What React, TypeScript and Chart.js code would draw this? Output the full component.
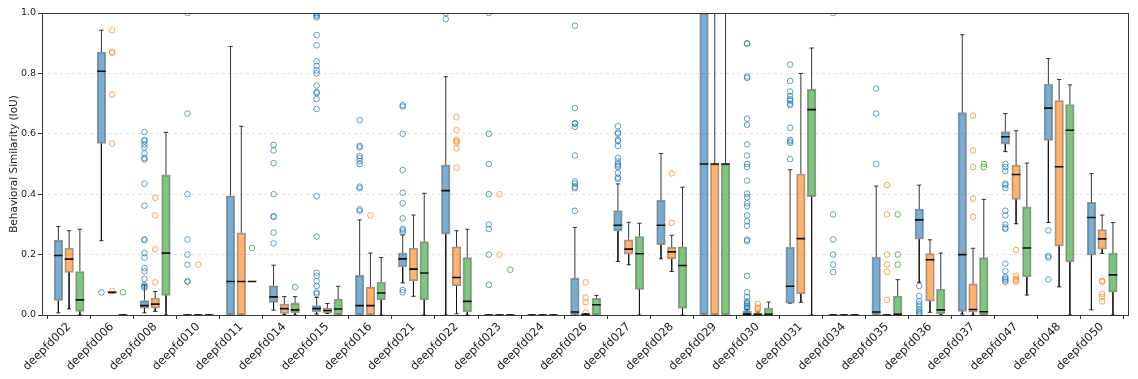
import React, { useEffect, useRef } from "react";
import { Chart, registerables } from "chart.js";

Chart.register(...registerables);

const categories = [
  "deepfd002", "deepfd006", "deepfd008", "deepfd010", "deepfd011", "deepfd014", "deepfd015",
  "deepfd016", "deepfd021", "deepfd022", "deepfd023", "deepfd024", "deepfd026", "deepfd027",
  "deepfd028", "deepfd029", "deepfd030", "deepfd031", "deepfd034", "deepfd035", "deepfd036",
  "deepfd037", "deepfd047", "deepfd048", "deepfd050",
];

const yTicks = [0, 0.2, 0.4, 0.6, 0.8, 1.0];

// [lowWhisker, q1, median, q3, highWhisker]
const blueStats = [
  [0.007, 0.048, 0.197, 0.248, 0.293],
  [0.246, 0.568, 0.807, 0.871, 0.943],
  [0.007, 0.023, 0.031, 0.048, 0.1],
  [0, 0, 0, 0, 0],
  [0, 0, 0.111, 0.395, 0.889],
  [0.016, 0.042, 0.06, 0.097, 0.165],
  [0.003, 0.01, 0.021, 0.031, 0.058],
  [0, 0, 0.031, 0.132, 0.315],
  [0.106, 0.16, 0.186, 0.205, 0.265],
  [0, 0.268, 0.412, 0.497, 0.789],
  [0, 0, 0, 0, 0],
  [0, 0, 0, 0, 0],
  [0, 0, 0.01, 0.122, 0.29],
  [0.177, 0.278, 0.297, 0.346, 0.434],
  [0.186, 0.233, 0.297, 0.38, 0.535],
  [0, 0, 0.5, 1.0, 1.0],
  [0, 0, 0.003, 0.012, 0.018],
  [0.039, 0.039, 0.095, 0.225, 0.481],
  [0, 0, 0, 0, 0],
  [0, 0, 0.01, 0.192, 0.427],
  [0.108, 0.251, 0.315, 0.351, 0.43],
  [0.003, 0.012, 0.2, 0.67, 0.928],
  [0.541, 0.566, 0.59, 0.607, 0.667],
  [0.306, 0.578, 0.685, 0.764, 0.849],
  [0.017, 0.198, 0.323, 0.373, 0.468],
];

const blueOutliers = [
  [],
  [0.075],
  [0.606, 0.58, 0.575, 0.565, 0.555, 0.535, 0.52, 0.515, 0.435, 0.362, 0.25, 0.248, 0.205, 0.19, 0.155, 0.145, 0.12, 0.1, 0.095, 0.09],
  [1.0, 0.667, 0.4, 0.25, 0.2, 0.167, 0.111, 0.111],
  [],
  [0.563, 0.545, 0.503, 0.4, 0.327, 0.325, 0.273, 0.237],
  [1.0, 0.995, 0.99, 0.985, 0.927, 0.893, 0.84, 0.825, 0.81, 0.8, 0.76, 0.738, 0.735, 0.715, 0.682, 0.393, 0.26, 0.14, 0.13, 0.112, 0.096, 0.075, 0.07],
  [0.645, 0.56, 0.555, 0.527, 0.52, 0.51, 0.5, 0.425, 0.42, 0.35, 0.345],
  [0.695, 0.69, 0.6, 0.48, 0.405, 0.37, 0.32, 0.285, 0.28, 0.273, 0.083, 0.075],
  [1.0, 0.98],
  [1.0, 0.6, 0.5, 0.4, 0.3, 0.285, 0.2, 0.1],
  [],
  [0.958, 0.685, 0.635, 0.633, 0.623, 0.528, 0.442, 0.435, 0.425, 0.42, 0.345],
  [0.625, 0.604, 0.6, 0.58, 0.575, 0.56, 0.52, 0.508, 0.5, 0.495, 0.49, 0.47, 0.455, 0.45],
  [],
  [],
  [0.9, 0.898, 0.79, 0.785, 0.65, 0.63, 0.565, 0.528, 0.5, 0.49, 0.445, 0.402, 0.39, 0.37, 0.36, 0.33, 0.31, 0.295, 0.25, 0.245, 0.13, 0.075, 0.06, 0.045, 0.04, 0.035, 0.03, 0.025, 0.02],
  [0.829, 0.775, 0.74, 0.725, 0.715, 0.71, 0.7, 0.695, 0.62, 0.58, 0.575, 0.57, 0.516],
  [1.0, 0.333, 0.25, 0.2, 0.167, 0.142],
  [0.75, 0.667, 0.5],
  [0.096, 0.063, 0.045, 0.036, 0.028, 0.018, 0.012, 0.007, 0.002],
  [],
  [0.5, 0.49, 0.477, 0.435, 0.43, 0.42, 0.345, 0.33, 0.3, 0.29, 0.285, 0.17, 0.145, 0.125, 0.12, 0.115, 0.11],
  [0.28, 0.195, 0.19, 0.118],
  [],
];

const orangeStats = [
  [0.02, 0.141, 0.185, 0.221, 0.279],
  [0.075, 0.075, 0.075, 0.075, 0.075],
  [0.012, 0.023, 0.036, 0.056, 0.078],
  [0, 0, 0, 0, 0],
  [0, 0, 0.111, 0.272, 0.625],
  [0.002, 0.005, 0.021, 0.036, 0.061],
  [0.005, 0.007, 0.015, 0.023, 0.038],
  [0, 0, 0.031, 0.092, 0.205],
  [0.062, 0.113, 0.152, 0.221, 0.331],
  [0.004, 0.097, 0.124, 0.226, 0.279],
  [0, 0, 0, 0, 0],
  [0, 0, 0, 0, 0],
  [0, 0, 0.002, 0.003, 0.005],
  [0.166, 0.202, 0.218, 0.249, 0.307],
  [0.144, 0.186, 0.209, 0.224, 0.264],
  [0, 0, 0.5, 0.5, 1.0],
  [0, 0, 0.002, 0.005, 0.01],
  [0.042, 0.07, 0.253, 0.467, 0.8],
  [0, 0, 0, 0, 0],
  [0, 0, 0, 0, 0],
  [0.009, 0.046, 0.183, 0.203, 0.249],
  [0, 0.009, 0.018, 0.103, 0.221],
  [0.302, 0.383, 0.465, 0.496, 0.61],
  [0.093, 0.229, 0.491, 0.71, 0.78],
  [0.204, 0.218, 0.252, 0.283, 0.331],
];

const orangeOutliers = [
  [],
  [0.943, 0.871, 0.869, 0.73, 0.568, 0.08],
  [0.388, 0.33, 0.218, 0.108],
  [0.167],
  [],
  [],
  [],
  [0.33],
  [],
  [0.655, 0.612, 0.58, 0.575, 0.57, 0.552, 0.488],
  [0.4, 0.2],
  [],
  [0.108, 0.058, 0.042, 0.008],
  [],
  [0.469, 0.305],
  [],
  [0.037, 0.025, 0.022, 0.015],
  [],
  [],
  [0.43, 0.333, 0.2, 0.167, 0.143, 0.05],
  [],
  [0.66, 0.545, 0.49, 0.385, 0.325],
  [0.215, 0.13, 0.12, 0.115, 0.11],
  [],
  [0.113, 0.11, 0.07, 0.06, 0.045],
];

const greenStats = [
  [0, 0.012, 0.05, 0.144, 0.284],
  [0, 0, 0, 0, 0],
  [0, 0.065, 0.205, 0.464, 0.605],
  [0, 0, 0, 0, 0],
  [0.111, 0.111, 0.111, 0.111, 0.111],
  [0, 0.007, 0.017, 0.04, 0.061],
  [0, 0, 0.02, 0.053, 0.095],
  [0, 0.05, 0.073, 0.109, 0.19],
  [0, 0.05, 0.139, 0.243, 0.403],
  [0, 0.01, 0.045, 0.19, 0.284],
  [0, 0, 0, 0, 0],
  [0, 0, 0, 0, 0],
  [0, 0, 0.034, 0.055, 0.065],
  [0, 0.085, 0.203, 0.26, 0.304],
  [0, 0.022, 0.164, 0.226, 0.423],
  [0, 0, 0.5, 0.5, 1.0],
  [0, 0, 0.002, 0.023, 0.043],
  [0, 0.392, 0.68, 0.747, 0.884],
  [0, 0, 0, 0, 0],
  [0, 0, 0.002, 0.063, 0.117],
  [0, 0.004, 0.017, 0.085, 0.205],
  [0, 0, 0.011, 0.19, 0.383],
  [0.066, 0.126, 0.222, 0.358, 0.503],
  [0, 0.176, 0.612, 0.697, 0.762],
  [0, 0.076, 0.133, 0.205, 0.306],
];

const greenOutliers = [
  [], [0.075], [], [], [0.222], [0.092], [], [], [], [], [0.15], [], [], [], [], [], [], [], [],
  [0.333, 0.2, 0.167], [], [0.5, 0.49], [], [], [],
];

const series = [
  { stats: blueStats, outliers: blueOutliers, offset: -0.25, fill: "rgba(31,119,180,0.6)", edge: "rgba(31,119,180,0.7)" },
  { stats: orangeStats, outliers: orangeOutliers, offset: 0, fill: "rgba(255,127,14,0.6)", edge: "rgba(255,127,14,0.7)" },
  { stats: greenStats, outliers: greenOutliers, offset: 0.25, fill: "rgba(44,160,44,0.6)", edge: "rgba(44,160,44,0.75)" },
];

const BOX_HALF = 0.1;
const CAP_HALF = 0.05;

function buildDatasets() {
  const ds: any[] = [];
  series.forEach((s) => {
    const boxes = s.stats.map((st, i) => ({ x: i + s.offset, y: [st[1], st[3]] }));
    const whiskers: any[] = [];
    const medians: any[] = [];
    const outs: any[] = [];
    s.stats.forEach((st, i) => {
      const x = i + s.offset;
      const [lo, q1, med, q3, hi] = st;
      whiskers.push({ x, y: q3 }, { x, y: hi }, { x, y: null });
      whiskers.push({ x, y: q1 }, { x, y: lo }, { x, y: null });
      whiskers.push({ x: x - CAP_HALF, y: hi }, { x: x + CAP_HALF, y: hi }, { x, y: null });
      whiskers.push({ x: x - CAP_HALF, y: lo }, { x: x + CAP_HALF, y: lo }, { x, y: null });
      medians.push({ x: x - BOX_HALF, y: med }, { x: x + BOX_HALF, y: med }, { x, y: null });
      s.outliers[i].forEach((v) => outs.push({ x, y: v }));
    });
    ds.push({
      type: "bar",
      data: boxes,
      backgroundColor: s.fill,
      borderColor: "rgba(120,120,120,0.75)",
      borderWidth: 1.2,
      borderSkipped: false,
      barThickness: 8.6,
      grouped: false,
      order: 3,
    });
    ds.push({
      type: "line",
      data: whiskers,
      borderColor: "rgba(20,20,20,0.85)",
      borderWidth: 1,
      pointRadius: 0,
      spanGaps: false,
      fill: false,
      order: 4,
    });
    ds.push({
      type: "line",
      data: medians,
      borderColor: "#111",
      borderWidth: 1.6,
      pointRadius: 0,
      spanGaps: false,
      fill: false,
      order: 1,
    });
    ds.push({
      type: "line",
      data: outs,
      showLine: false,
      pointStyle: "circle",
      pointRadius: 2.8,
      pointBorderWidth: 1,
      pointBorderColor: s.edge,
      pointBackgroundColor: "rgba(0,0,0,0)",
      clip: 0,
      order: 2,
    });
  });
  return ds;
}

const framePlugin = {
  id: "frame",
  afterDatasetsDraw(chart: any) {
    const { ctx, chartArea } = chart;
    const { left, top, right, bottom } = chartArea;
    ctx.save();
    ctx.strokeStyle = "#3a3a3a";
    ctx.lineWidth = 1;
    ctx.strokeRect(Math.round(left) + 0.5, Math.round(top) + 0.5, Math.round(right - left), Math.round(bottom - top));
    ctx.restore();
  },
};

export default function App() {
  const canvasRef = useRef<HTMLCanvasElement>(null);

  useEffect(() => {
    document.body.style.margin = "0";
    const canvas = canvasRef.current;
    if (!canvas) return;
    const chart = new Chart(canvas, {
      type: "bar",
      data: { datasets: buildDatasets() },
      plugins: [framePlugin],
      options: {
        responsive: false,
        animation: false,
        devicePixelRatio: 1,
        layout: { padding: { left: 0, right: 10, top: 13, bottom: 0 } },
        plugins: { legend: { display: false }, tooltip: { enabled: false } },
        scales: {
          x: {
            type: "linear",
            offset: false,
            min: -0.63,
            max: 24.6,
            afterBuildTicks: (scale: any) => {
              scale.ticks = categories.map((_, i) => ({ value: i }));
            },
            afterFit: (scale: any) => {
              scale.height = 64;
            },
            grid: { display: true, drawOnChartArea: false, drawTicks: true, tickLength: 4, tickColor: "#333", tickWidth: 1 },
            border: { display: false },
            ticks: {
              autoSkip: false,
              maxRotation: 45,
              minRotation: 45,
              padding: 1,
              color: "#222",
              font: { family: "DejaVu Sans", size: 11.5 },
              callback: (v: any) => categories[Math.round(Number(v))] ?? "",
            },
          },
          y: {
            type: "linear",
            min: 0,
            max: 1,
            afterBuildTicks: (scale: any) => {
              scale.ticks = yTicks.map((v) => ({ value: v }));
            },
            afterFit: (scale: any) => {
              scale.width = 42;
            },
            grid: {
              display: true,
              drawTicks: true,
              tickLength: 4,
              tickColor: "#333",
              tickWidth: 1,
              tickBorderDash: [],
              color: (c: any) => (c.tick && (c.tick.value === 0 || c.tick.value === 1) ? "rgba(0,0,0,0)" : "rgba(0,0,0,0.14)"),
              lineWidth: 0.8,
            },
            border: { display: false, dash: [3, 3] },
            ticks: {
              padding: 2,
              color: "#222",
              font: { family: "DejaVu Sans", size: 9.5 },
              callback: (v: any) => Number(v).toFixed(1),
            },
            title: {
              display: true,
              text: "Behavioral Similarity (IoU)",
              color: "#222",
              font: { family: "DejaVu Sans", size: 10.5 },
              padding: { top: 8, bottom: 0 },
            },
          },
        },
      } as any,
    });
    return () => chart.destroy();
  }, []);

  return <canvas ref={canvasRef} width={1138} height={379} style={{ display: "block" }} />;
}
